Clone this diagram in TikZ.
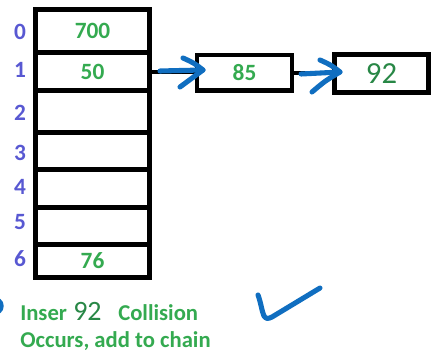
\documentclass[tikz,border=0pt]{standalone}
\usepackage{fontspec}
\setmainfont{Carlito}
\definecolor{idxblue}{RGB}{88,88,210}
\definecolor{valgreen}{RGB}{52,170,80}
\definecolor{darkgreen}{RGB}{40,135,70}
\definecolor{penblue}{RGB}{16,110,192}
% one drawing unit = 0.75pt; all lengths below are given in pt
\tikzset{
  cell/.style={draw=black, line width=3.75pt, inner sep=0, minimum width=85.5pt,
    font=\bfseries\fontsize{17.5}{17.5}\selectfont, text=valgreen},
  idx/.style={font=\bfseries\fontsize{17.5}{17.5}\selectfont, text=idxblue},
  chainbox/.style={draw=black, line width=3.4pt, inner sep=0,
    font=\bfseries\fontsize{17.5}{17.5}\selectfont, text=valgreen},
  link/.style={draw=black, line width=3pt},
  pen/.style={draw=penblue, line width=3.8pt, line cap=round, line join=round},
  note/.style={font=\bfseries\fontsize{17}{17}\selectfont, text=valgreen, inner sep=0, anchor=base west}
}
\begin{document}
\begin{tikzpicture}[x=0.75pt,y=-0.75pt]
\useasboundingbox (0,0) rectangle (431,357);
% hash table buckets
\node[cell, minimum height=32.25pt]  (c0) at (92.5,31)     {700};
\node[cell, minimum height=28.5pt]   (c1) at (92.5,71.5)   {50};
\node[cell, minimum height=31.5pt]   (c2) at (92.5,111.5)  {};
\node[cell, minimum height=27.375pt] (c3) at (92.5,150.75) {};
\node[cell, minimum height=28.5pt]   (c4) at (92.5,188)    {};
\node[cell, minimum height=28.125pt] (c5) at (92.5,225.75) {};
\node[cell, minimum height=24.375pt] (c6) at (92.5,260.75) {76};
% bucket indices
\node[idx] (i0) at (20,32)  {0};
\node[idx] (i1) at (20,70)  {1};
\node[idx] (i2) at (20,113) {2};
\node[idx] (i3) at (20,153) {3};
\node[idx] (i4) at (20,187) {4};
\node[idx] (i5) at (20,222) {5};
\node[idx] (i6) at (20,259) {6};
% chain for bucket 1
\node[chainbox, minimum width=71.25pt, minimum height=26.6pt] (b85) at (244.5,72.75) {85};
\node[chainbox, minimum width=70.5pt, minimum height=28.5pt, font=\fontsize{23}{23}\selectfont, text=darkgreen] (b92) at (381.5,73.5) {92};
\draw[link] (c1.east) -- (b85.west |- c1.east);
\draw[link] (b85.east) -- (b92.west |- b85.east);
% hand-drawn arrows
\draw[pen] (160,71) .. controls (180,70.5) .. (203,70);
\draw[pen] (183,58) .. controls (194,63) .. (203,70) .. controls (192,78) .. (180,87);
\draw[pen] (301,74) .. controls (320,73) .. (340,72);
\draw[pen] (320,60) .. controls (331,65) .. (340,72) .. controls (325,81) .. (312,92);
% tick mark
\draw[pen] (258,295) .. controls (261,303) and (262,312) .. (264,316) .. controls (266,319) and (268,319) .. (272,317) -- (320,288);
% stray pen mark at the edge
\draw[pen, line width=2.6pt] (-1,300) .. controls (3,303) and (3,309) .. (-1,312);
% caption
\node[note] (n1) at (20,320) {Inser};
\node[note, font=\fontsize{21}{21}\selectfont, text=darkgreen] (n2) at (73,320) {92};
\node[note] (n3) at (118,320) {Collision};
\node[note] (n4) at (20,347) {Occurs, add to chain};
\end{tikzpicture}
\end{document}
